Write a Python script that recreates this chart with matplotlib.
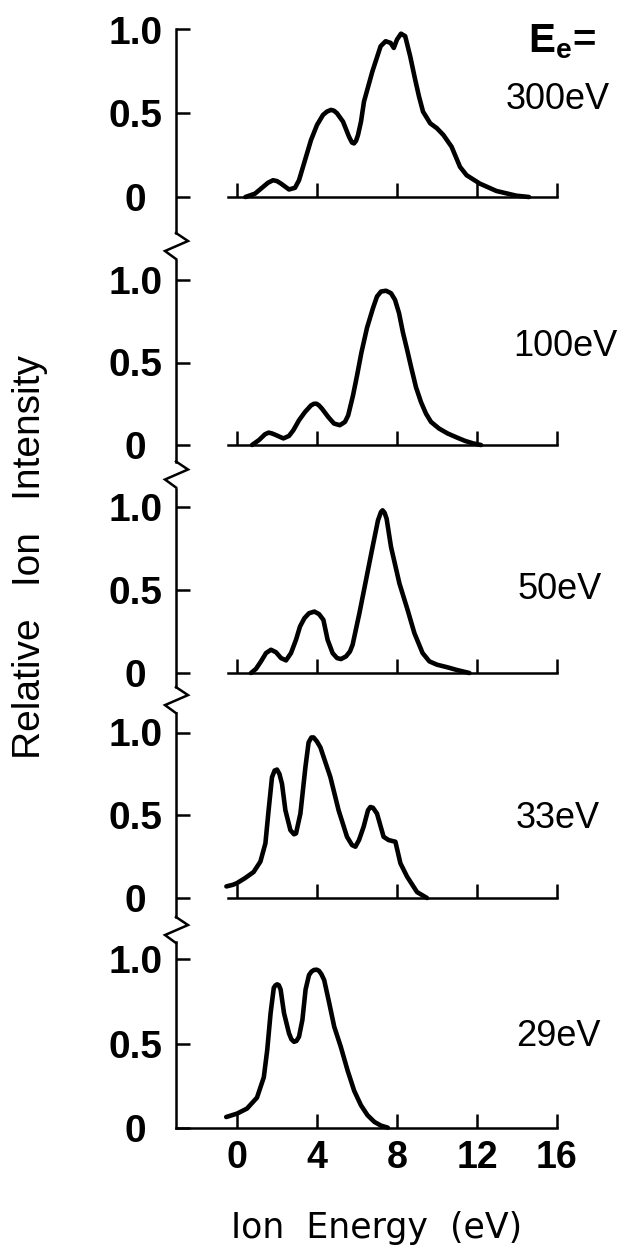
import matplotlib
matplotlib.use("Agg")
import matplotlib.pyplot as plt
from matplotlib.lines import Line2D

plt.rcParams['font.family'] = ['Liberation Sans', 'DejaVu Sans']
plt.rcParams['mathtext.fontset'] = 'custom'
plt.rcParams['mathtext.rm'] = 'Liberation Sans:bold'
plt.rcParams['mathtext.it'] = 'Liberation Sans:bold'

# ---------------- data ----------------
energy_labels = ["300eV", "100eV", "50eV", "33eV", "29eV"]
header_label = r"$\mathrm{E_e}$="

x_300 = [0.42, 0.9, 1.3, 1.55, 1.8, 2.0, 2.2, 2.6, 2.9, 3.1, 3.4, 3.7, 4.0, 4.3, 4.5, 4.7, 4.85,
         5.0, 5.3, 5.6, 5.75, 5.85, 5.95, 6.05, 6.2, 6.35, 6.77, 7.18, 7.43, 7.68, 7.84, 8.0,
         8.2, 8.41, 8.66, 8.91, 9.1, 9.3, 9.66, 10.0, 10.32, 10.73, 11.15, 11.48, 12.14, 12.97,
         13.96, 14.6]
y_300 = [0.0, 0.02, 0.06, 0.085, 0.10, 0.095, 0.08, 0.045, 0.055, 0.10, 0.22, 0.34, 0.43, 0.49,
         0.51, 0.52, 0.515, 0.50, 0.45, 0.36, 0.325, 0.32, 0.335, 0.37, 0.45, 0.57, 0.75, 0.90,
         0.93, 0.92, 0.89, 0.94, 0.975, 0.96, 0.84, 0.70, 0.60, 0.51, 0.44, 0.41, 0.37, 0.30,
         0.18, 0.13, 0.08, 0.036, 0.008, 0.0]

x_100 = [0.75, 1.1, 1.4, 1.58, 1.75, 1.95, 2.32, 2.6, 2.82, 3.1, 3.4, 3.7, 3.85, 3.98, 4.1,
         4.25, 4.56, 4.85, 5.14, 5.4, 5.56, 5.8, 6.0, 6.22, 6.5, 6.8, 7.0, 7.2, 7.45, 7.7, 7.9,
         8.1, 8.3, 8.5, 8.71, 8.95, 9.2, 9.45, 9.7, 10.1, 10.53, 11.0, 11.4, 11.8, 12.2]
y_100 = [0.0, 0.03, 0.065, 0.075, 0.07, 0.06, 0.04, 0.055, 0.09, 0.15, 0.20, 0.24, 0.25, 0.25,
         0.24, 0.22, 0.17, 0.13, 0.12, 0.14, 0.18, 0.30, 0.42, 0.56, 0.71, 0.83, 0.90, 0.93,
         0.935, 0.92, 0.88, 0.80, 0.68, 0.58, 0.47, 0.35, 0.26, 0.19, 0.14, 0.10, 0.07, 0.045,
         0.025, 0.01, 0.0]

x_50 = [0.70, 0.95, 1.2, 1.45, 1.70, 1.95, 2.2, 2.45, 2.7, 2.95, 3.15, 3.37, 3.6, 3.87, 4.1,
        4.32, 4.53, 4.78, 5.0, 5.2, 5.45, 5.65, 5.78, 6.12, 6.45, 6.78, 7.05, 7.2, 7.28, 7.38,
        7.48, 7.7, 8.12, 8.53, 8.87, 9.28, 9.62, 10.0, 10.5, 11.0, 11.62]
y_50 = [0.0, 0.025, 0.07, 0.12, 0.14, 0.125, 0.09, 0.076, 0.12, 0.20, 0.28, 0.33, 0.36, 0.37,
        0.355, 0.32, 0.20, 0.12, 0.09, 0.084, 0.10, 0.13, 0.17, 0.36, 0.56, 0.76, 0.92, 0.97,
        0.98, 0.965, 0.93, 0.76, 0.54, 0.38, 0.24, 0.12, 0.07, 0.05, 0.035, 0.018, 0.0]

x_33 = [-0.53, -0.2, 0.0, 0.4, 0.83, 1.17, 1.42, 1.58, 1.75, 1.88, 2.0, 2.12, 2.25, 2.42, 2.67,
        2.85, 2.95, 3.17, 3.42, 3.58, 3.72, 3.83, 4.0, 4.17, 4.67, 5.08, 5.5, 5.75, 5.92, 6.1,
        6.33, 6.55, 6.67, 6.8, 7.0, 7.33, 7.58, 7.92, 8.17, 8.5, 9.0, 9.5]
y_33 = [0.07, 0.08, 0.09, 0.12, 0.157, 0.22, 0.33, 0.53, 0.73, 0.77, 0.776, 0.75, 0.69, 0.53,
        0.41, 0.385, 0.39, 0.51, 0.79, 0.94, 0.97, 0.97, 0.945, 0.91, 0.73, 0.53, 0.37, 0.32,
        0.31, 0.35, 0.43, 0.53, 0.55, 0.545, 0.51, 0.37, 0.35, 0.34, 0.21, 0.13, 0.036, 0.0]

x_29 = [-0.54, 0.0, 0.5, 1.0, 1.34, 1.51, 1.68, 1.84, 1.93, 2.01, 2.09, 2.18, 2.35, 2.6, 2.72,
        2.85, 2.97, 3.1, 3.27, 3.43, 3.6, 3.72, 3.85, 3.98, 4.1, 4.22, 4.36, 4.61, 4.86, 5.19,
        5.53, 5.86, 6.2, 6.53, 6.87, 7.2, 7.54]
y_29 = [0.065, 0.085, 0.115, 0.18, 0.30, 0.46, 0.68, 0.83, 0.845, 0.85, 0.845, 0.82, 0.68, 0.56,
        0.525, 0.51, 0.515, 0.54, 0.64, 0.82, 0.905, 0.925, 0.935, 0.937, 0.93, 0.91, 0.875,
        0.74, 0.60, 0.48, 0.34, 0.22, 0.134, 0.075, 0.036, 0.014, 0.002]

series_x = [x_300, x_100, x_50, x_33, x_29]
series_y = [y_300, y_100, y_50, y_33, y_29]

xticks = [0, 4, 8, 12, 16]
xticklabels = ["0", "4", "8", "12", "16"]
yticks = [0, 0.5, 1.0]
yticklabels = ["0", "0.5", "1.0"]
xlabel_text = "Ion  Energy  (eV)"
ylabel_text = "Relative   Ion   Intensity"

# ---------------- layout (pixels) ----------------
W, H, DPI = 623, 1247, 100
X0_PX, PX_PER_EV = 237.0, 20.0
XMIN, XMAX = -3.05, 16.6
# zero-level pixel row, pixels per unit, y-limits of each panel
panel_geom = [(197, 167.5, -0.215, 1.00),
              (445, 165.0, -0.100, 1.12),
              (673, 166.0, -0.085, 1.11),
              (898, 165.5, -0.115, 1.12),
              (1128, 169.0, 0.000, 1.10)]
label_xy = [(16.05, 0.585), (16.4, 0.60), (16.15, 0.506), (16.05, 0.483), (16.05, 0.54)]
header_xy = (16.25, 0.93)

AX_LW = 1.8
CURVE_LW = 3.3

fig = plt.figure(figsize=(W / DPI, H / DPI), dpi=DPI)
spine_px = X0_PX + XMIN * PX_PER_EV
axes = []
for i, (y0, s, lo, hi) in enumerate(panel_geom):
    top_px = y0 - s * hi
    bot_px = y0 - s * lo
    ax = fig.add_axes([spine_px / W, 1 - bot_px / H,
                       (XMAX - XMIN) * PX_PER_EV / W, (bot_px - top_px) / H])
    ax.set_xlim(XMIN, XMAX)
    ax.set_ylim(lo, hi)
    ax.patch.set_visible(False)
    ax.plot(series_x[i], series_y[i], color="black", lw=CURVE_LW, clip_on=False,
            solid_joinstyle="round", solid_capstyle="round")
    for sp in ("top", "right"):
        ax.spines[sp].set_visible(False)
    ax.spines["left"].set_linewidth(AX_LW)
    ax.spines["bottom"].set_linewidth(AX_LW)
    ax.spines["bottom"].set_position(("data", 0))
    last = (i == len(panel_geom) - 1)
    ax.spines["bottom"].set_bounds(XMIN if last else -0.45, 16)
    ax.set_xticks(xticks)
    ax.set_xticklabels(xticklabels if last else [""] * len(xticks), fontweight="bold")
    ax.tick_params(axis="x", direction="in", length=10, width=AX_LW, labelsize=27, pad=9)
    ax.set_yticks(yticks)
    ax.set_yticklabels(yticklabels, fontsize=28, fontweight="bold")
    for lbl in ax.get_yticklabels():
        lbl.set_horizontalalignment("center")
    ax.tick_params(axis="y", direction="in", length=10, width=AX_LW, pad=29)
    ax.text(label_xy[i][0], label_xy[i][1], energy_labels[i], fontsize=26,
            ha="center", va="center", clip_on=False)
    if i == 0:
        ax.text(header_xy[0], header_xy[1], header_label, fontsize=29, fontweight="bold",
                ha="center", va="center", clip_on=False)
    # axis-break zigzag below this panel's y axis
    if not last:
        zz_x = [spine_px, spine_px + 12, spine_px - 11, spine_px]
        zz_y = [bot_px, bot_px + 8, bot_px + 18, bot_px + 26]
        fig.add_artist(Line2D([v / W for v in zz_x], [1 - v / H for v in zz_y],
                              transform=fig.transFigure, color="black", lw=AX_LW,
                              solid_joinstyle="miter"))
    axes.append(ax)

fig.text(377 / W, 1 - 1228 / H, xlabel_text, fontsize=25, family="DejaVu Sans",
         ha="center", va="center")
fig.text(30 / W, 1 - 557 / H, ylabel_text, fontsize=28, rotation=90,
         ha="center", va="center")

fig.savefig("out.png", dpi=DPI)
